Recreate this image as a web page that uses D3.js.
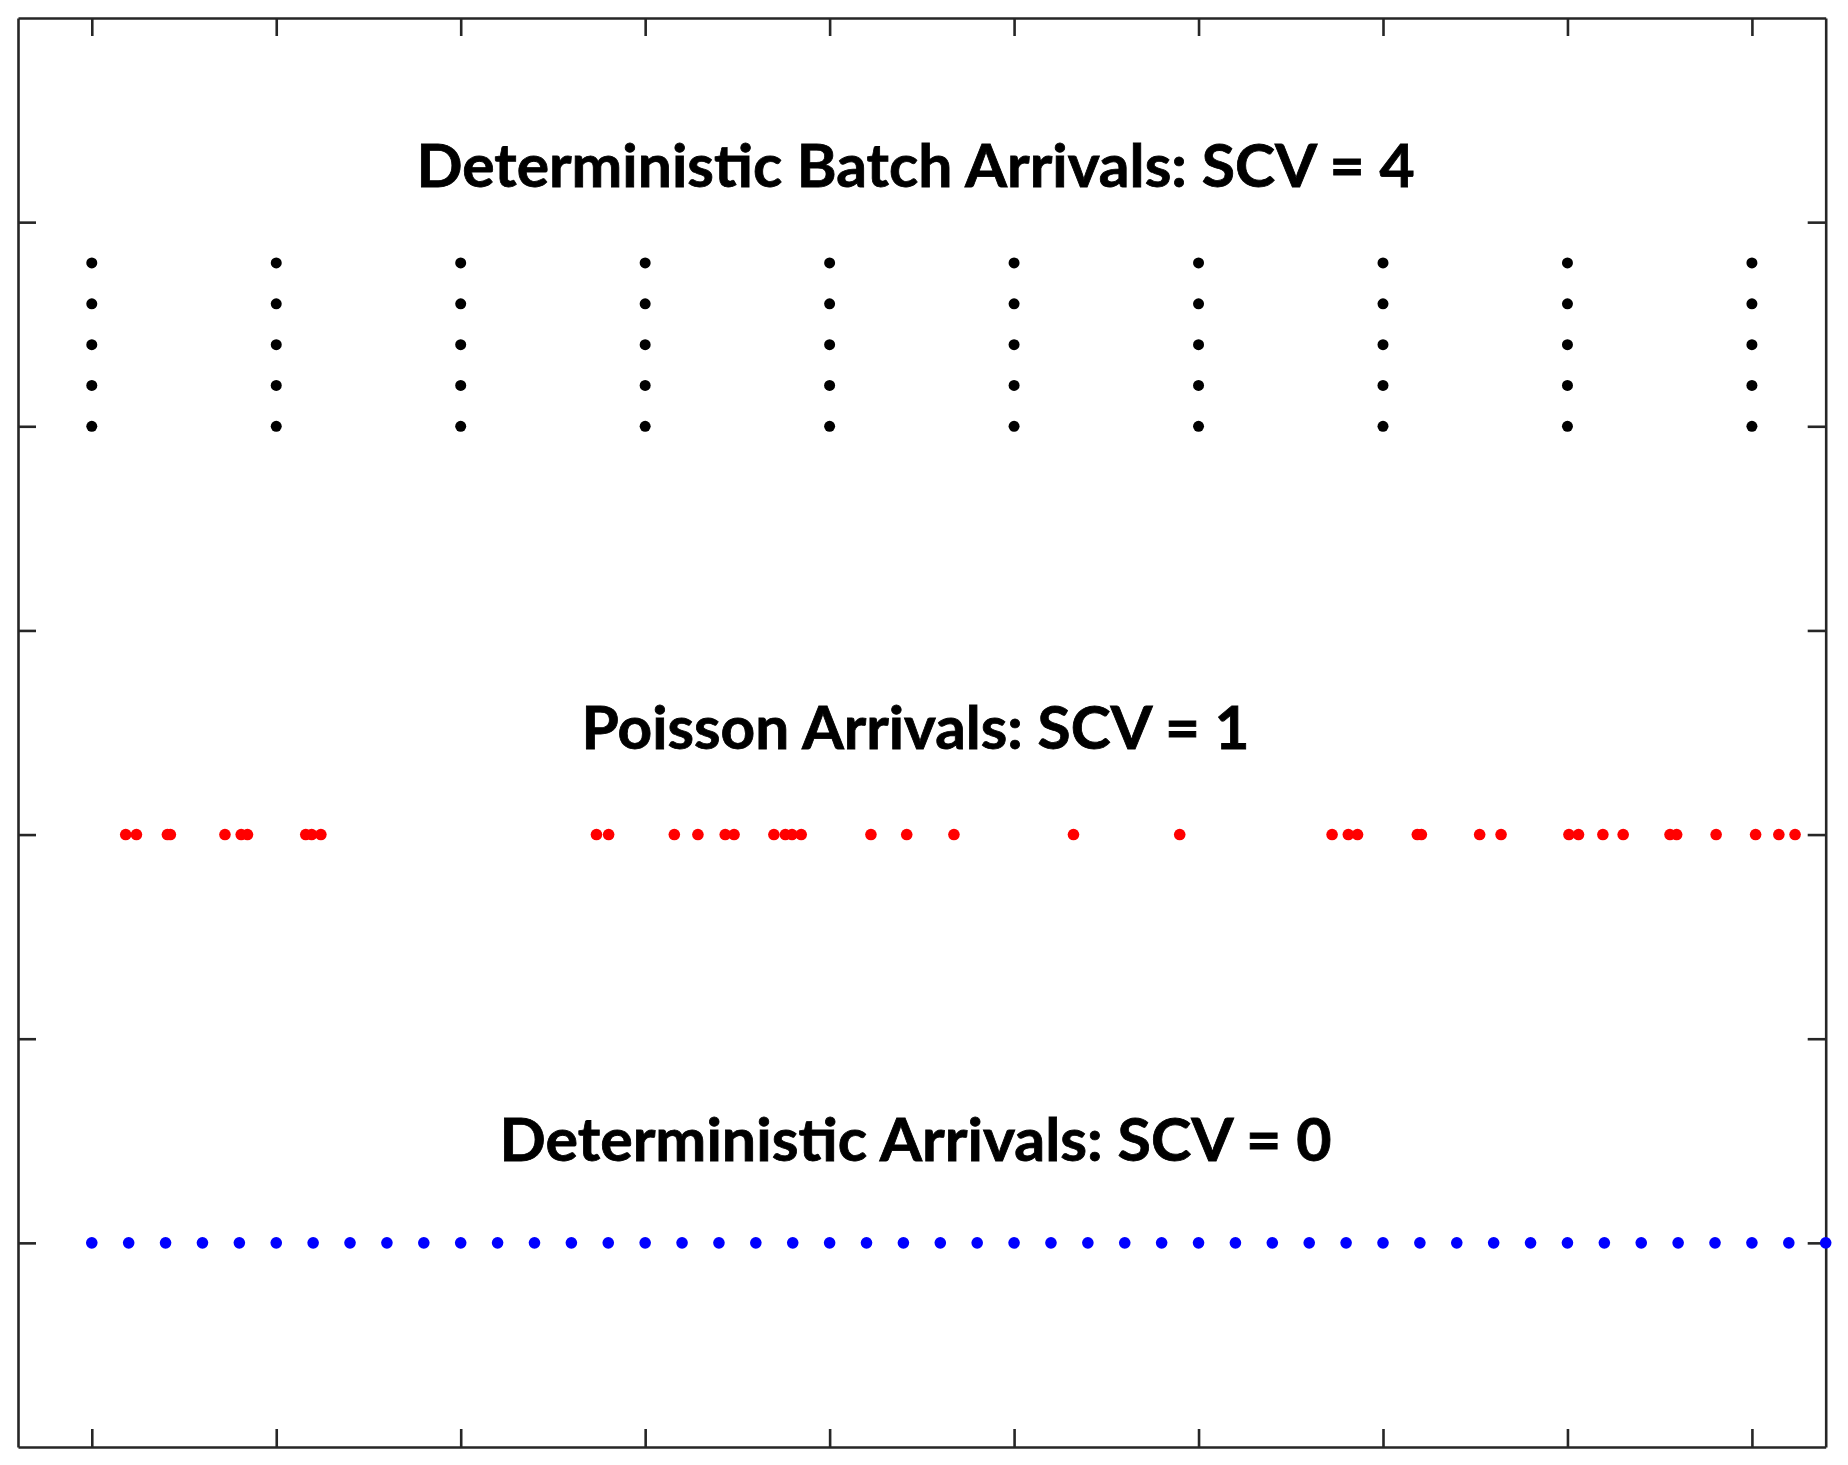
<!DOCTYPE html>
<html>
<head>
<meta charset="utf-8">
<script src="https://cdn.jsdelivr.net/npm/d3@7"></script>
<style>
  body { margin: 0; background: #fff; }
  .frame path, .frame line { stroke: #262626; stroke-width: 2.6; }
</style>
</head>
<body>
<div id="chart"></div>
<script>
//data
var xTicks = [0, 5, 10, 15, 20, 25, 30, 35, 40, 45],
    yTicks = [1, 2, 3, 4, 5, 6];
var batchTimes = [0, 5, 10, 15, 20, 25, 30, 35, 40, 45],
    batchLevels = [5, 5.2, 5.4, 5.6, 5.8];
var poissonTimes = [0.92, 1.21, 2.05, 2.13, 3.61, 4.05, 4.22, 5.80, 5.96, 6.21,
                    13.68, 14.01, 15.79, 16.43, 17.17, 17.41, 18.49, 18.80, 18.98, 19.23,
                    21.12, 22.09, 23.37, 26.61, 29.49, 33.62, 34.06, 34.31, 35.93, 36.04,
                    37.62, 38.20, 40.04, 40.30, 40.96, 41.51, 42.78, 42.96, 44.03, 45.10,
                    45.73, 46.17],
    poissonLevel = 3;
var detTimes = [0, 1, 2, 3, 4, 5, 6, 7, 8, 9, 10, 11, 12, 13, 14, 15, 16, 17, 18, 19,
                20, 21, 22, 23, 24, 25, 26, 27, 28, 29, 30, 31, 32, 33, 34, 35, 36, 37, 38, 39,
                40, 41, 42, 43, 44, 45, 46, 47],
    detLevel = 1;
var titles = ["Deterministic Batch Arrivals: SCV = 4", "Poisson Arrivals: SCV = 1", "Deterministic Arrivals: SCV = 0"],
    titleY = [6.17, 3.42, 1.40];

//layout
var W = 1848, H = 1465,
    area = { l: 18, r: 1825.7, t: 18, b: 1447 },
    tick = 18,
    dot_r = 5.8,
    title = { x: 22.33, size: 59, len: [998, 668, 832] };

var x = d3.scaleLinear().domain([-2, 47]).range([area.l, area.r]),
    y = d3.scaleLinear().domain([0, 7]).range([area.b, area.t]);

var svg = d3.select("#chart").append("svg").attr("width", W).attr("height", H);

//frame with inward ticks on all sides
svg.append("g").attr("class", "frame").attr("transform", "translate(0," + area.b + ")")
   .call(d3.axisBottom(x).tickValues(xTicks).tickSizeInner(-tick).tickSizeOuter(0).tickFormat(""));
svg.append("g").attr("class", "frame").attr("transform", "translate(0," + area.t + ")")
   .call(d3.axisTop(x).tickValues(xTicks).tickSizeInner(-tick).tickSizeOuter(0).tickFormat(""));
svg.append("g").attr("class", "frame").attr("transform", "translate(" + area.l + ",0)")
   .call(d3.axisLeft(y).tickValues(yTicks).tickSizeInner(-tick).tickSizeOuter(0).tickFormat(""));
svg.append("g").attr("class", "frame").attr("transform", "translate(" + area.r + ",0)")
   .call(d3.axisRight(y).tickValues(yTicks).tickSizeInner(-tick).tickSizeOuter(0).tickFormat(""));
svg.selectAll(".frame path").attr("fill", "none");

//batch arrivals
var batchPts = [];
batchTimes.forEach(function(t) {
  batchLevels.forEach(function(v) { batchPts.push([t, v]); });
});
svg.append("g").selectAll("circle").data(batchPts).enter().append("circle")
   .attr("cx", function(d) { return x(d[0]); }).attr("cy", function(d) { return y(d[1]); })
   .attr("r", dot_r - 0.3).attr("fill", "#000");

//poisson arrivals
svg.append("g").selectAll("circle").data(poissonTimes).enter().append("circle")
   .attr("cx", function(d) { return x(d); }).attr("cy", y(poissonLevel))
   .attr("r", dot_r).attr("fill", "#ff0000");

//deterministic arrivals
svg.append("g").selectAll("circle").data(detTimes).enter().append("circle")
   .attr("cx", function(d) { return x(d); }).attr("cy", y(detLevel))
   .attr("r", dot_r).attr("fill", "#0000ff");

//titles
svg.append("g").selectAll("text").data(titles).enter().append("text")
   .attr("x", x(title.x)).attr("y", function(d, i) { return y(titleY[i]); })
   .attr("text-anchor", "middle").attr("font-family", "Lato, 'Open Sans', sans-serif")
   .attr("font-weight", "bold").attr("font-size", title.size).attr("fill", "#000")
   .attr("stroke", "#000").attr("stroke-width", 0.8)
   .attr("textLength", function(d, i) { return title.len[i]; }).attr("lengthAdjust", "spacingAndGlyphs")
   .text(function(d) { return d; });
</script>
</body>
</html>
